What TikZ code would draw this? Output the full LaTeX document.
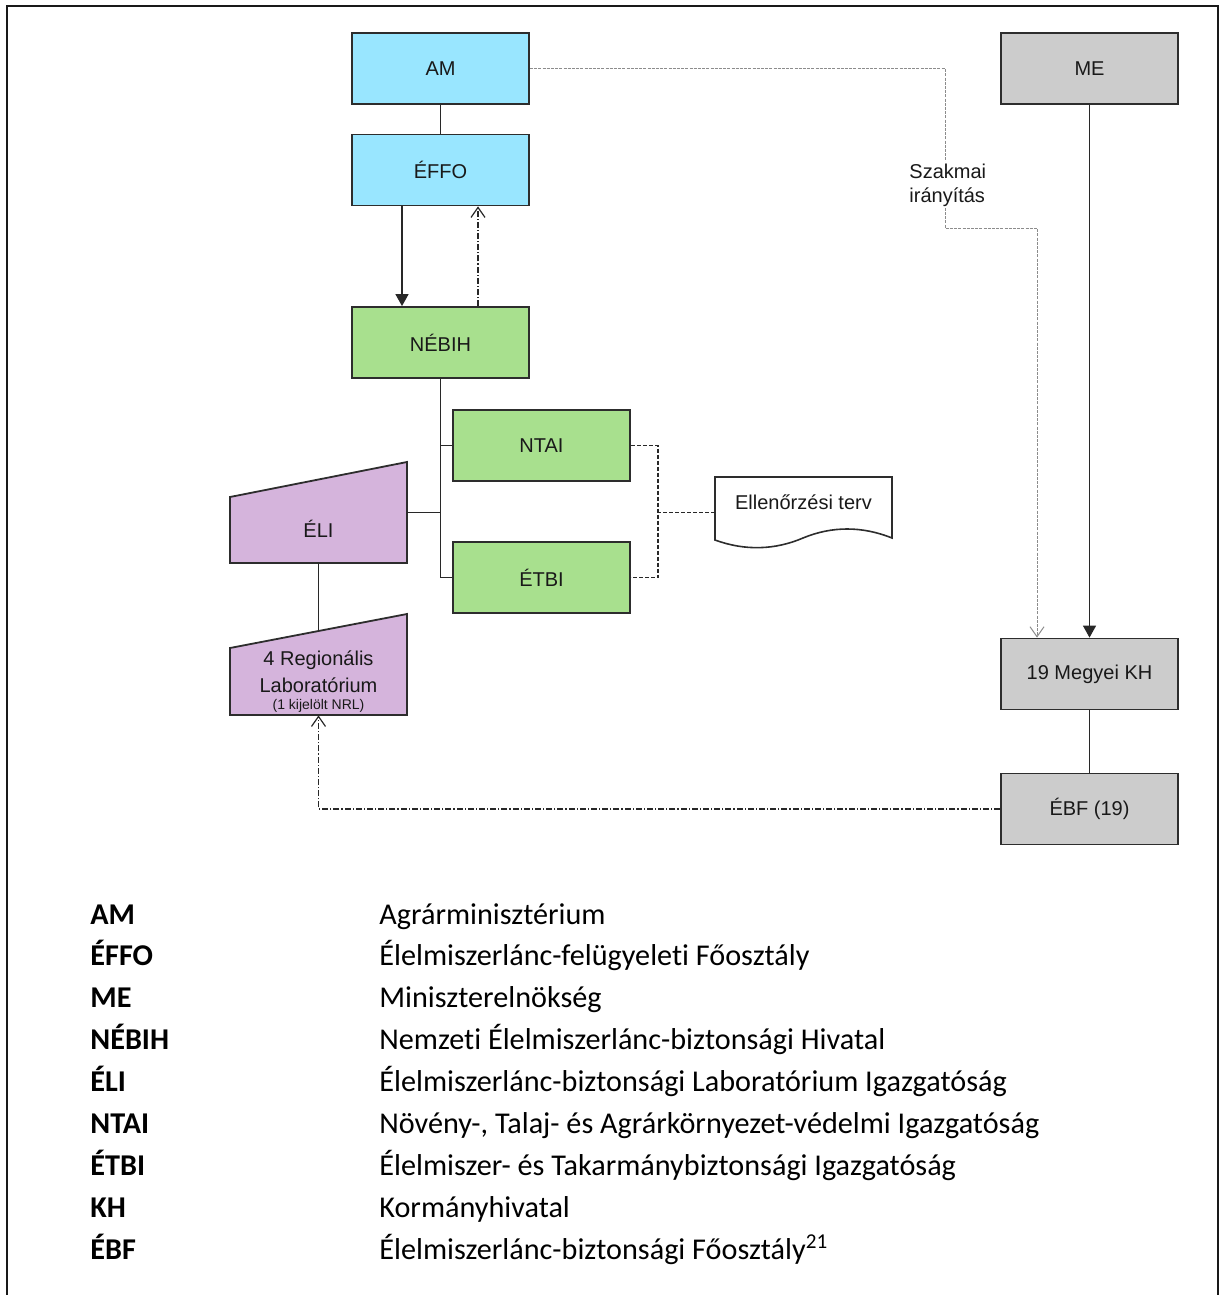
\documentclass[tikz,border=0pt]{standalone}
\usepackage{fontspec}
\setmainfont{Liberation Sans}
\newfontfamily\legendfont[Ligatures=NoCommon]{Carlito}
\usetikzlibrary{arrows.meta,calc}
\definecolor{amblue}{RGB}{153,230,255}
\definecolor{nbgreen}{RGB}{168,224,142}
\definecolor{lilac}{RGB}{213,180,220}
\definecolor{boxgray}{RGB}{204,204,204}
\definecolor{edgec}{RGB}{45,45,45}
\definecolor{linec}{RGB}{40,40,40}
\begin{document}
\begin{tikzpicture}[x=0.5pt,y=-0.5pt,
  box/.style={draw=edgec,line width=0.9pt,minimum width=88.5pt,minimum height=35.5pt,inner sep=0pt,font=\fontsize{10}{12}\selectfont,text=black!90},
  bluebox/.style={box,fill=amblue},
  greenbox/.style={box,fill=nbgreen},
  graybox/.style={box,fill=boxgray},
  frame/.style={inner sep=0pt,minimum width=88.5pt},
  lbl/.style={font=\fontsize{10}{12}\selectfont,text=black!90,inner sep=0pt},
  conn/.style={draw=linec,line width=0.7pt},
  solidarrow/.style={conn,-{Triangle[length=6pt,width=6.5pt]}},
  openarrow/.style={-{Straight Barb[length=5pt,width=7pt]}},
  dashdot/.style={conn,line width=0.6pt,dash pattern=on 3pt off 1pt on 0.6pt off 1pt},
  dashedc/.style={conn,line width=0.7pt,dash pattern=on 2pt off 1pt},
  guide/.style={draw=black!45,line width=0.5pt,dash pattern=on 1.5pt off 0.6pt},
  abbr/.style={anchor=base west,inner sep=0pt,font=\legendfont\bfseries\fontsize{15.1}{17}\selectfont},
  desc/.style={anchor=base west,inner sep=0pt,font=\legendfont\fontsize{15.1}{17}\selectfont}]
\useasboundingbox (0,0) rectangle (1220,1295);
% outer frame
\draw[line width=1.1pt,black!90] (7,1295) -- (7,6) -- (1218,6) -- (1218,1295);

% boxes
\node[bluebox] (am) at (440.5,68.5) {AM};
\node[bluebox] (effo) at (440.5,170) {ÉFFO};
\node[greenbox] (nebih) at (440.5,342.5) {NÉBIH};
\node[greenbox] (ntai) at (541.5,445.5) {NTAI};
\node[greenbox] (etbi) at (541.5,577.5) {ÉTBI};
\node[graybox] (me) at (1089.5,68.5) {ME};
\node[graybox] (kh) at (1089.5,674) {19 Megyei KH};
\node[graybox] (ebf) at (1089.5,809) {ÉBF (19)};

% ÉLI trapezoid
\node[frame,minimum height=50.5pt] (eli) at (318.5,512.5) {};
\draw[draw=edgec,line width=0.9pt,fill=lilac] (230,497) -- (407,462) -- (407,563) -- (230,563) -- cycle;
\node[lbl] (elitext) at (318.5,529) {ÉLI};

% Regional lab trapezoid
\node[frame,minimum height=50.5pt] (lab) at (318.5,664.5) {};
\draw[draw=edgec,line width=0.9pt,fill=lilac] (230,648) -- coordinate[pos=0.5] (labtop) (407,614) -- (407,715) -- (230,715) -- cycle;
\node[lbl] (lab1) at (318.5,660) {4 Regionális};
\node[lbl] (lab2) at (318.5,685) {Laboratórium};
\node[lbl,font=\fontsize{7}{8}\selectfont] (lab3) at (318.5,706) {(1 kijelölt NRL)};

% document shape
\node[frame,minimum height=35.5pt] (doc) at (803.5,512.5) {};
\draw[draw=edgec,line width=0.8pt,fill=white] (715,477) -- (892,477) -- (892,538)
  .. controls (862,526) and (832,526) .. (803,538)
  .. controls (775,550) and (745,551) .. (715,540) -- cycle;
\node[lbl] (doctext) at (803.5,502) {Ellenőrzési terv};

% connectors
\draw[conn] (am) -- (effo);
\draw[solidarrow] ([xshift=-19.25pt]effo.south) -- ([xshift=-19.25pt]nebih.north);
\draw[dashdot,openarrow] ([xshift=18.75pt]nebih.north) -- ([xshift=18.75pt]effo.south);
\draw[conn] (nebih.south) |- (etbi.west);
\draw[conn] (nebih.south) |- (ntai.west);
\draw[conn] (eli.east) -| (nebih.south);
\draw[conn] (eli.south) -- (labtop);
\draw[dashedc] (ntai.east) -- ++(13.5pt,0) |- (etbi.east);
\draw[dashedc] (doc.west) -- ++(-29pt,0);
\draw[solidarrow] (me) -- (kh);
\draw[conn] (kh) -- (ebf);
\draw[dashdot,openarrow] (ebf.west) -| (lab.south);
\draw[guide,openarrow] (am.east) -- (945,68.5) -- (945,228) -| ([xshift=-26.25pt]kh.north);
\node[lbl,anchor=west,fill=white,align=left,inner sep=1pt] (szak) at (907,185) {Szakmai\\irányítás};

% legend
\foreach \a/\d [count=\i from 0] in {AM/Agrárminisztérium,
  ÉFFO/Élelmiszerlánc-felügyeleti Főosztály,
  ME/Miniszterelnökség,
  NÉBIH/Nemzeti Élelmiszerlánc-biztonsági Hivatal,
  ÉLI/Élelmiszerlánc-biztonsági Laboratórium Igazgatóság,
  NTAI/{Növény-, Talaj- és Agrárkörnyezet-védelmi Igazgatóság},
  ÉTBI/Élelmiszer- és Takarmánybiztonsági Igazgatóság,
  KH/Kormányhivatal,
  ÉBF/Élelmiszerlánc-biztonsági Főosztály\textsuperscript{21}} {
  \node[abbr] (ab\i) at (90,{924+41.875*\i}) {\a};
  \node[desc] (de\i) at (379,{924+41.875*\i}) {\d};
}
\end{tikzpicture}
\end{document}
